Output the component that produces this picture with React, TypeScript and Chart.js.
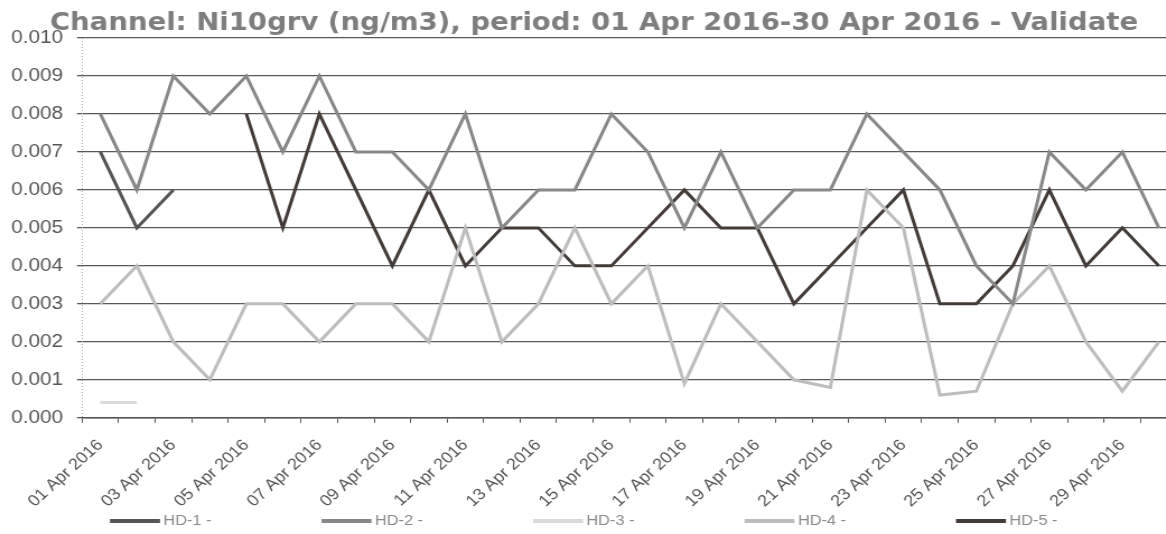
import React, { useEffect, useRef } from 'react';
import { Chart, registerables } from 'chart.js';

Chart.register(...registerables);

const categories = [
  '01 Apr 2016', '02 Apr 2016', '03 Apr 2016', '04 Apr 2016', '05 Apr 2016',
  '06 Apr 2016', '07 Apr 2016', '08 Apr 2016', '09 Apr 2016', '10 Apr 2016',
  '11 Apr 2016', '12 Apr 2016', '13 Apr 2016', '14 Apr 2016', '15 Apr 2016',
  '16 Apr 2016', '17 Apr 2016', '18 Apr 2016', '19 Apr 2016', '20 Apr 2016',
  '21 Apr 2016', '22 Apr 2016', '23 Apr 2016', '24 Apr 2016', '25 Apr 2016',
  '26 Apr 2016', '27 Apr 2016', '28 Apr 2016', '29 Apr 2016', '30 Apr 2016',
];

const hd1 = [0.007, 0.005, 0.006, null, null, null, null, null, null, null,
  null, null, null, null, null, null, null, null, null, null,
  null, null, null, null, null, null, null, null, null, null];

const hd2 = [0.008, 0.006, 0.009, 0.008, 0.009, 0.007, 0.009, 0.007, 0.007, 0.006,
  0.008, 0.005, 0.006, 0.006, 0.008, 0.007, 0.005, 0.007, 0.005, 0.006,
  0.006, 0.008, 0.007, 0.006, 0.004, 0.003, 0.007, 0.006, 0.007, 0.005];

const hd3 = [0.0004, 0.0004, null, null, null, null, null, null, null, null,
  null, null, null, null, null, null, null, null, null, null,
  null, null, null, null, null, null, null, null, null, null];

const hd4 = [0.003, 0.004, 0.002, 0.001, 0.003, 0.003, 0.002, 0.003, 0.003, 0.002,
  0.005, 0.002, 0.003, 0.005, 0.003, 0.004, 0.0009, 0.003, 0.002, 0.001,
  0.0008, 0.006, 0.005, 0.0006, 0.0007, 0.003, 0.004, 0.002, 0.0007, 0.002];

const hd5 = [null, null, null, null, 0.008, 0.005, 0.008, 0.006, 0.004, 0.006,
  0.004, 0.005, 0.005, 0.004, 0.004, 0.005, 0.006, 0.005, 0.005, 0.003,
  0.004, 0.005, 0.006, 0.003, 0.003, 0.004, 0.006, 0.004, 0.005, 0.004];

const seriesLabels = ['HD-1 -', 'HD-2 -', 'HD-3 -', 'HD-4 -', 'HD-5 -'];
const seriesColors = ['#555555', '#888888', '#dadada', '#bdbdbd', '#433b38'];

const yTicks = [0, 0.001, 0.002, 0.003, 0.004, 0.005, 0.006, 0.007, 0.008, 0.009, 0.01];

const titleText = 'Channel: Ni10grv (ng/m3), period: 01 Apr 2016-30 Apr 2016 - Validate';

// horizontal stretch of the original print
const SX = 1.12;
const CANVAS_W = 1063;
const CANVAS_H = 534;

const decorPlugin = {
  id: 'decor',
  beforeDraw(chart: any) {
    const ctx = chart.ctx;
    ctx.save();
    ctx.fillStyle = '#ffffff';
    ctx.fillRect(0, 0, chart.width, chart.height);
    ctx.restore();
  },
  afterDraw(chart: any) {
    const ctx = chart.ctx;
    const area = chart.chartArea;
    ctx.save();
    // dotted y axis line
    ctx.strokeStyle = '#a8a8a8';
    ctx.lineWidth = 1;
    ctx.setLineDash([1, 2]);
    ctx.beginPath();
    ctx.moveTo(Math.round(area.left) + 0.5, area.top);
    ctx.lineTo(Math.round(area.left) + 0.5, area.bottom);
    ctx.stroke();
    ctx.setLineDash([]);

    // title
    ctx.font = 'bold 24.6px "DejaVu Sans"';
    ctx.fillStyle = '#7e7e7e';
    ctx.textAlign = 'center';
    ctx.textBaseline = 'alphabetic';
    ctx.fillText(titleText, 594 / SX, 30);

    // legend
    const startX = 110 / SX;
    const step = 211.5 / SX;
    const lineW = 50 / SX;
    const y = 521;
    chart.data.datasets.forEach((ds: any, i: number) => {
      const x0 = startX + i * step;
      ctx.strokeStyle = ds.borderColor;
      ctx.lineWidth = 4;
      ctx.beginPath();
      ctx.moveTo(x0, y);
      ctx.lineTo(x0 + lineW, y);
      ctx.stroke();
      ctx.font = '14.6px "Liberation Sans"';
      ctx.fillStyle = '#8a8a8a';
      ctx.textAlign = 'left';
      ctx.textBaseline = 'middle';
      ctx.fillText(ds.label, x0 + lineW + 3, y);
    });
    ctx.restore();
  },
};

export default function App() {
  const canvasRef = useRef<HTMLCanvasElement | null>(null);

  useEffect(() => {
    if (!canvasRef.current) return;
    const series = [hd1, hd2, hd3, hd4, hd5];
    const chart = new Chart(canvasRef.current, {
      type: 'line',
      data: {
        labels: categories,
        datasets: series.map((d, i) => ({
          label: seriesLabels[i],
          data: d,
          borderColor: seriesColors[i],
          backgroundColor: seriesColors[i],
          borderWidth: 3,
          pointRadius: 0,
          pointHoverRadius: 0,
          tension: 0,
          spanGaps: false,
          fill: false,
        })),
      },
      options: {
        responsive: false,
        animation: false,
        devicePixelRatio: 1,
        layout: { padding: { top: 38, left: -2.5, right: 12, bottom: 10 } },
        plugins: {
          legend: { display: false },
          title: { display: false },
          tooltip: { enabled: false },
        },
        scales: {
          x: {
            type: 'category',
            offset: true,
            afterFit: (scale: any) => {
              scale.paddingLeft = 0;
              scale.paddingRight = 0;
            },
            grid: {
              offset: true,
              drawOnChartArea: false,
              drawTicks: true,
              tickLength: 5,
              color: '#555555',
            },
            border: { display: true, color: '#555555', width: 1.5 },
            ticks: {
              autoSkip: false,
              maxRotation: 45,
              minRotation: 45,
              padding: 13,
              labelOffset: 0,
              color: '#555555',
              font: { family: 'Liberation Sans', size: 16 },
              callback: (_v: any, i: number) => (i % 2 === 0 ? categories[i] : ''),
            },
          },
          y: {
            min: 0,
            max: 0.01,
            afterBuildTicks: (scale: any) => {
              scale.ticks = yTicks.map((v) => ({ value: v }));
            },
            grid: {
              color: 'rgba(60,60,60,0.85)',
              lineWidth: 1.3,
              drawTicks: true,
              tickLength: 4.5,
            },
            border: { display: false },
            ticks: {
              padding: 12.5,
              color: '#555555',
              font: { family: 'Liberation Sans', size: 18.5 },
              callback: (v: any) => Number(v).toFixed(3),
            },
          },
        },
      },
      plugins: [decorPlugin],
    });
    return () => chart.destroy();
  }, []);

  return (
    <div
      style={{
        position: 'fixed',
        left: 0,
        top: 0,
        width: 1166,
        height: 534,
        overflow: 'hidden',
        background: '#ffffff',
      }}
    >
      <canvas
        ref={canvasRef}
        width={CANVAS_W}
        height={CANVAS_H}
        style={{ display: 'block', transform: `scaleX(${SX})`, transformOrigin: '0 0' }}
      />
    </div>
  );
}
